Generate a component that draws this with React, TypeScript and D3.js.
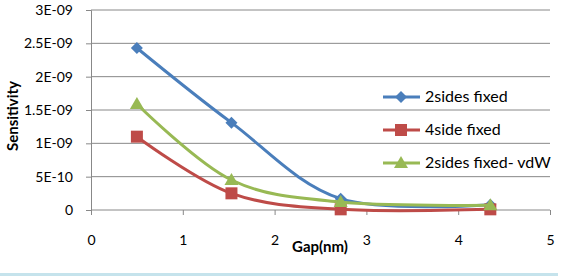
import React, { useEffect, useRef } from 'react';
import * as d3 from 'd3';

const gaps = [0.5, 1.53, 2.72, 4.35];
const seriesNames = ['2sides fixed', '4side fixed', '2sides fixed- vdW'];
const twoSides = [2.43e-9, 1.31e-9, 0.17e-9, 0.08e-9];
const fourSide = [1.1e-9, 0.25e-9, 0.01e-9, 0.01e-9];
const twoSidesVdw = [1.59e-9, 0.45e-9, 0.12e-9, 0.07e-9];
const yTicks = [0, 5e-10, 1e-9, 1.5e-9, 2e-9, 2.5e-9, 3e-9];
const yTickLabels = ['0', '5E-10', '1E-09', '1.5E-09', '2E-09', '2.5E-09', '3E-09'];
const xTicks = [0, 1, 2, 3, 4, 5];

const colors = ['#4A7EBB', '#BE4B48', '#98B954'];
const markers = ['diamond', 'square', 'triangle'];

export default function App() {
  const ref = useRef<SVGSVGElement>(null);

  useEffect(() => {
    const svg = d3.select(ref.current);
    svg.selectAll('*').remove();

    const x = d3.scaleLinear().domain([0, 5]).range([91, 550]);
    const y = d3.scaleLinear().domain([0, 3e-9]).range([210, 10]);
    const font = 'Lato, sans-serif';

    // gridlines
    svg.append('g')
      .selectAll('line')
      .data(yTicks.slice(1))
      .enter()
      .append('line')
      .attr('x1', x(0)).attr('x2', x(5))
      .attr('y1', d => y(d)).attr('y2', d => y(d))
      .attr('stroke', '#888').attr('stroke-width', 1);

    const yAxis = d3.axisLeft(y).tickValues(yTicks)
      .tickFormat((d, i) => yTickLabels[i]).tickSize(5).tickPadding(13);
    const gy = svg.append('g').attr('transform', `translate(${x(0)},0)`).call(yAxis);
    const xAxis = d3.axisBottom(x).tickValues(xTicks).tickFormat(d3.format('d')).tickSize(5).tickPadding(20);
    const gx = svg.append('g').attr('transform', `translate(0,${y(0)})`).call(xAxis);
    [gy, gx].forEach(g => {
      g.select('.domain').attr('stroke', '#888');
      g.selectAll('.tick line').attr('stroke', '#888');
      g.selectAll('.tick text').attr('fill', '#000').style('font-family', font).style('font-size', '14px');
    });
    gx.select('.domain').attr('d', `M${x(0)},0H${x(5)}`);

    const all = [twoSides, fourSide, twoSidesVdw];
    const line = d3.line<number>()
      .x((d, i) => x(gaps[i]))
      .y(d => y(d))
      .curve(d3.curveCardinal.tension(0));

    const marker = (g: any, kind: string, cx: number, cy: number, c: string) => {
      if (kind === 'diamond') {
        g.append('path').attr('d', `M${cx},${cy - 6}L${cx + 6},${cy}L${cx},${cy + 6}L${cx - 6},${cy}Z`).attr('fill', c);
      } else if (kind === 'square') {
        g.append('rect').attr('x', cx - 6).attr('y', cy - 6).attr('width', 12).attr('height', 12).attr('fill', c);
      } else {
        g.append('path').attr('d', `M${cx},${cy - 7}L${cx + 7},${cy + 5}L${cx - 7},${cy + 5}Z`).attr('fill', c);
      }
    };

    all.forEach((vals, s) => {
      const g = svg.append('g');
      g.append('path').attr('d', line(vals)).attr('fill', 'none')
        .attr('stroke', colors[s]).attr('stroke-width', 3);
      vals.forEach((v, i) => marker(g, markers[s], x(gaps[i]), y(v), colors[s]));
    });

    // legend
    const lg = svg.append('g');
    seriesNames.forEach((name, i) => {
      const ly = 97 + i * 33;
      lg.append('line').attr('x1', 383).attr('x2', 420).attr('y1', ly).attr('y2', ly)
        .attr('stroke', colors[i]).attr('stroke-width', 3);
      marker(lg, markers[i], 401, ly, colors[i]);
      lg.append('text').attr('x', 425).attr('y', ly + 5).text(name)
        .style('font-family', font).style('font-size', '16px');
    });

    svg.append('text').attr('transform', 'translate(18,116) rotate(-90)')
      .attr('text-anchor', 'middle').text('Sensitivity')
      .style('font-family', font).style('font-size', '15px').style('font-weight', 'bold');
    svg.append('text').attr('x', 320).attr('y', 252)
      .attr('text-anchor', 'middle').text('Gap(nm)')
      .style('font-family', font).style('font-size', '15px').style('font-weight', 'bold');

    svg.append('rect').attr('x', 0).attr('y', 273).attr('width', 558).attr('height', 3).attr('fill', '#C5E3EC');
  }, []);

  return (
    <svg ref={ref} width={567} height={276}
      style={{ position: 'absolute', left: 0, top: 0, background: '#fff' }} />
  );
}
